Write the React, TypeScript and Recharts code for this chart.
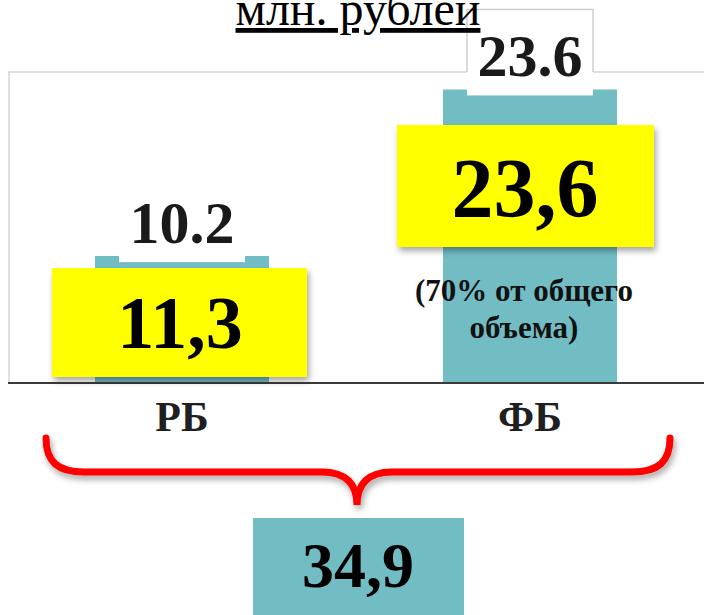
import { BarChart, Bar, XAxis, YAxis, CartesianGrid, LabelList } from 'recharts';

const categories = ['РБ', 'ФБ'];
const values = [10.2, 23.6];
const updatedValues = ['11,3', '23,6'];
const shareNote = ['(70% от общего', 'объема)'];
const totalValue = '34,9';
const unitTitle = 'млн. рублей';

const TEAL = '#72bcc4';
const FONT = '"Liberation Serif", "Times New Roman", serif';
const PLOT_TOP = 72;

const data = categories.map((name, i) => ({ name, value: values[i] }));

const ValueLabel = (props: any) => {
  const { x, y, width, value } = props;
  const cx = x + width / 2;
  const bw = 126;
  const top = y - 80;
  const bottom = y + 6;
  return (
    <g>
      <rect x={cx - bw / 2} y={top} width={bw} height={bottom - top} fill="#fff" />
      {top < PLOT_TOP && (
        <path
          d={`M${cx - bw / 2},${PLOT_TOP} V${top} H${cx + bw / 2} V${PLOT_TOP}`}
          stroke="#cfcfcf"
          strokeWidth={1.5}
          fill="none"
        />
      )}
      <text
        x={cx}
        y={y - 13}
        textAnchor="middle"
        fontFamily={FONT}
        fontWeight="bold"
        fontSize={60}
        fill="#1a1a1a">
        {value}
      </text>
    </g>
  );
};

const CategoryTick = (props: any) => {
  const { x, y, payload } = props;
  return (
    <text
      x={x}
      y={y + 40}
      textAnchor="middle"
      fontFamily={FONT}
      fontWeight="bold"
      fontSize={42}
      fill="#1f1f1f">
      {payload.value}
    </text>
  );
};

export default function App() {
  return (
    <div style={{ position: 'absolute', left: 0, top: 0, width: 704, height: 615, background: '#fff' }}>
      <BarChart
        width={704}
        height={615}
        data={data}
        margin={{ top: PLOT_TOP, right: 0, bottom: 172, left: 8 }}
        barCategoryGap="25%">
        <CartesianGrid verticalPoints={[9]} stroke="#d4d4d4" strokeWidth={1.5} />
        <YAxis hide width={0} domain={[0, 25]} ticks={[0, 25]} />
        <XAxis
          dataKey="name"
          height={60}
          tickLine={false}
          axisLine={{ stroke: '#3a3a3a', strokeWidth: 2 }}
          tick={<CategoryTick />}
        />
        <Bar dataKey="value" fill={TEAL} isAnimationActive={false}>
          <LabelList dataKey="value" content={<ValueLabel />} />
        </Bar>
      </BarChart>

      <svg
        width={704}
        height={615}
        style={{ position: 'absolute', left: 0, top: 0, pointerEvents: 'none' }}>
        <defs>
          <filter id="shadow" x="-10%" y="-10%" width="130%" height="140%">
            <feDropShadow dx="2" dy="4" stdDeviation="3" floodColor="#000" floodOpacity="0.35" />
          </filter>
        </defs>

        <text
          x={358}
          y={25}
          textAnchor="middle"
          fontFamily={FONT}
          fontSize={48}
          fill="#000"
          style={{ textDecoration: 'underline' }}>
          {unitTitle}
        </text>

        {/* yellow boxes with the updated amounts */}
        <rect x={52} y={268} width={255} height={109} fill="#ffff00" filter="url(#shadow)" />
        <text x={180} y={348} textAnchor="middle" fontFamily={FONT} fontWeight="bold" fontSize={74} fill="#000">
          {updatedValues[0]}
        </text>
        <rect x={397} y={125} width={257} height={122} fill="#ffff00" filter="url(#shadow)" />
        <text x={525} y={217} textAnchor="middle" fontFamily={FONT} fontWeight="bold" fontSize={84} fill="#000">
          {updatedValues[1]}
        </text>

        <text x={524} y={301} textAnchor="middle" fontFamily={FONT} fontWeight="bold" fontSize={31} fill="#111">
          {shareNote[0]}
        </text>
        <text x={524} y={338} textAnchor="middle" fontFamily={FONT} fontWeight="bold" fontSize={31} fill="#111">
          {shareNote[1]}
        </text>

        {/* brace */}
        <path
          d="M46,438 C46,462 58,472 84,472 L322,472 C346,472 357,484 357,505 C357,484 368,472 392,472 L632,472 C658,472 670,462 670,438"
          stroke="#ff0000"
          strokeWidth={7}
          strokeLinecap="round"
          fill="none"
          filter="url(#shadow)"
        />

        <rect x={253} y={518} width={211} height={100} fill={TEAL} />
        <text x={358} y={587} textAnchor="middle" fontFamily={FONT} fontWeight="bold" fontSize={64} fill="#000">
          {totalValue}
        </text>
      </svg>
    </div>
  );
}
